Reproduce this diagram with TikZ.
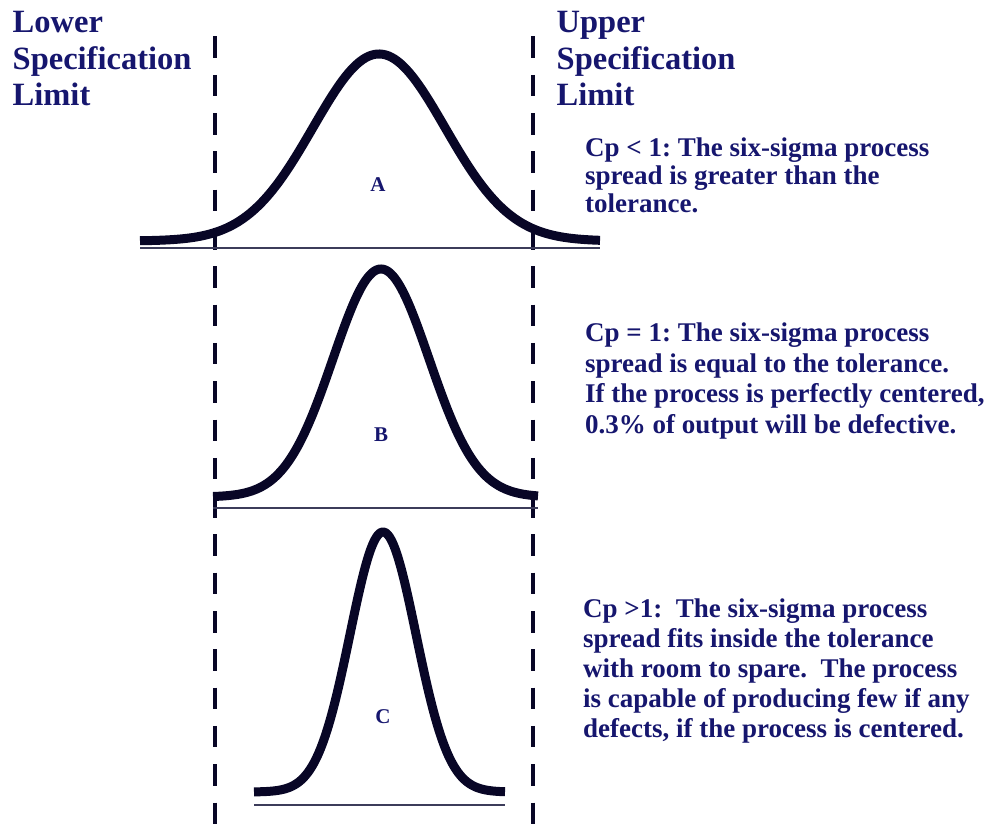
\documentclass[tikz,border=0pt]{standalone}
\usepackage{fontspec}
\setmainfont{Liberation Serif}
\frenchspacing
\definecolor{navytext}{RGB}{22,22,110}
\definecolor{curvecol}{RGB}{8,6,38}
\definecolor{basecol}{RGB}{60,60,90}
\tikzset{
  curve/.style={draw=curvecol, line width=9pt, line cap=butt, line join=round},
  baseln/.style={draw=basecol, line width=1.8pt},
  speclimit/.style={draw=curvecol, line width=4pt, dash pattern=on 21.5pt off 16.8pt},
  title/.style={font=\bfseries\fontsize{32.5}{36.5}\selectfont, text=navytext, align=left, inner sep=0pt, anchor=base west},
  note/.style={font=\bfseries\fontsize{27}{30.5}\selectfont, text=navytext, align=left, inner sep=0pt, anchor=base west},
  lbl/.style={font=\bfseries\fontsize{21}{24}\selectfont, text=navytext, inner sep=0pt}
}
\begin{document}
\begin{tikzpicture}[x=1pt,y=-1pt]
\useasboundingbox (0,0) rectangle (995,829);
% spec limits
\coordinate (lslTop) at (214.5,36.5);
\coordinate (lslBot) at (214.5,829);
\coordinate (uslTop) at (533,36.5);
\coordinate (uslBot) at (533,829);
\draw[speclimit] (lslTop) -- (lslBot);
\draw[speclimit] (uslTop) -- (uslBot);
% baselines
\coordinate (a1) at (140,248); \coordinate (a2) at (600,248);
\coordinate (b1) at (213,508); \coordinate (b2) at (538,508);
\coordinate (c1) at (254,805); \coordinate (c2) at (505,805);
\draw[baseln] (a1) -- (a2);
\draw[baseln] (b1) -- (b2);
\draw[baseln] (c1) -- (c2);
% curves
\draw[curve] plot[domain=140:600, samples=160, smooth] (\x, {241-187*exp(-0.5*((\x-379)/66)^2)});
\draw[curve] plot[domain=213:538, samples=140, smooth] (\x, {497-228*exp(-0.5*((\x-381)/48)^2)});
\draw[curve] plot[domain=254:505, samples=140, smooth] (\x, {792-260*exp(-0.5*((\x-383)/33)^2)});
% labels
\node[lbl] (labA) at (378,185) {A};
\node[lbl] (labB) at (381,435) {B};
\node[lbl] (labC) at (383,717) {C};
% titles (anchor = baseline of last line)
\node[title] (lsl) at (12.5,106) {Lower\\Specification\\Limit};
\node[title] (usl) at (556.5,106) {Upper\\Specification\\Limit};
% notes
\node[note, font=\bfseries\fontsize{27}{27.5}\selectfont] (noteA) at (585,212) {Cp < 1: The six-sigma process\\spread is greater than the\\tolerance.};
\node[note] (noteB) at (585,433) {Cp = 1: The six-sigma process\\spread is equal to the tolerance.\\If the process is perfectly centered,\\0.3\% of output will be defective.};
\node[note, font=\bfseries\fontsize{27}{30}\selectfont] (noteC) at (583,737) {Cp >1:~ The six-sigma process\\spread fits inside the tolerance\\with room to spare.~ The process\\is capable of producing few if any\\defects, if the process is centered.};
\end{tikzpicture}
\end{document}
